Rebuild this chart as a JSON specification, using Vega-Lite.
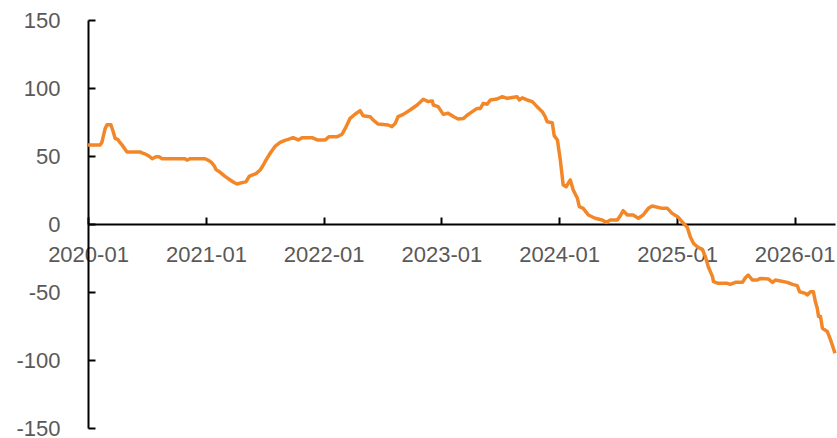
{
  "$schema": "https://vega.github.io/schema/vega-lite/v6.json",
  "width": 747,
  "height": 408,
  "autosize": {"type": "none"},
  "padding": {"left": 88, "top": 20, "right": 2, "bottom": 10},
  "background": "white",
  "config": {"view": {"stroke": null}},
  "data": {"values": [
    {"d": "2020-01-01", "v": 58}, {"d": "2020-02-07", "v": 58}, {"d": "2020-02-13", "v": 60}, {"d": "2020-02-23", "v": 70},
    {"d": "2020-02-29", "v": 73}, {"d": "2020-03-12", "v": 73}, {"d": "2020-03-19", "v": 68}, {"d": "2020-03-25", "v": 63},
    {"d": "2020-04-03", "v": 62}, {"d": "2020-04-09", "v": 60}, {"d": "2020-04-16", "v": 58}, {"d": "2020-04-25", "v": 55},
    {"d": "2020-05-01", "v": 53}, {"d": "2020-06-10", "v": 53}, {"d": "2020-06-20", "v": 52}, {"d": "2020-06-26", "v": 51.5},
    {"d": "2020-07-08", "v": 50}, {"d": "2020-07-18", "v": 48}, {"d": "2020-07-30", "v": 49.5}, {"d": "2020-08-08", "v": 49.5},
    {"d": "2020-08-18", "v": 48}, {"d": "2020-10-28", "v": 48}, {"d": "2020-11-03", "v": 47}, {"d": "2020-11-13", "v": 48},
    {"d": "2020-12-29", "v": 48}, {"d": "2021-01-07", "v": 47}, {"d": "2021-01-17", "v": 45.5}, {"d": "2021-01-26", "v": 43},
    {"d": "2021-02-01", "v": 40}, {"d": "2021-02-14", "v": 38}, {"d": "2021-03-01", "v": 35}, {"d": "2021-03-17", "v": 32.4},
    {"d": "2021-03-29", "v": 30.5}, {"d": "2021-04-07", "v": 29.4}, {"d": "2021-04-23", "v": 30.4}, {"d": "2021-05-05", "v": 31},
    {"d": "2021-05-15", "v": 35}, {"d": "2021-05-24", "v": 36}, {"d": "2021-06-05", "v": 37}, {"d": "2021-06-18", "v": 39.7},
    {"d": "2021-06-27", "v": 43}, {"d": "2021-07-06", "v": 47}, {"d": "2021-07-19", "v": 52}, {"d": "2021-08-03", "v": 57},
    {"d": "2021-08-19", "v": 60}, {"d": "2021-09-03", "v": 61.5}, {"d": "2021-09-13", "v": 62.2}, {"d": "2021-09-28", "v": 63.5},
    {"d": "2021-10-14", "v": 61.8}, {"d": "2021-10-26", "v": 63.5}, {"d": "2021-11-26", "v": 63.5}, {"d": "2021-12-12", "v": 61.8},
    {"d": "2022-01-06", "v": 61.8}, {"d": "2022-01-18", "v": 64.2}, {"d": "2022-02-12", "v": 64.2}, {"d": "2022-02-27", "v": 66},
    {"d": "2022-03-09", "v": 70.3}, {"d": "2022-03-24", "v": 77.7}, {"d": "2022-04-09", "v": 80.9}, {"d": "2022-04-24", "v": 83.3},
    {"d": "2022-05-03", "v": 79.6}, {"d": "2022-05-25", "v": 78.9}, {"d": "2022-06-03", "v": 76.5}, {"d": "2022-06-19", "v": 73.5},
    {"d": "2022-07-20", "v": 72.8}, {"d": "2022-08-01", "v": 71.6}, {"d": "2022-08-11", "v": 74}, {"d": "2022-08-20", "v": 79},
    {"d": "2022-09-05", "v": 80.6}, {"d": "2022-09-26", "v": 83.8}, {"d": "2022-10-18", "v": 87.5}, {"d": "2022-11-06", "v": 91.7},
    {"d": "2022-11-21", "v": 90}, {"d": "2022-12-04", "v": 90.5}, {"d": "2022-12-07", "v": 87.5}, {"d": "2022-12-22", "v": 86.3},
    {"d": "2023-01-07", "v": 80.6}, {"d": "2023-01-22", "v": 81.4}, {"d": "2023-02-07", "v": 79}, {"d": "2023-02-22", "v": 77.2},
    {"d": "2023-03-10", "v": 77.5}, {"d": "2023-03-22", "v": 80}, {"d": "2023-04-07", "v": 82.6}, {"d": "2023-04-22", "v": 85},
    {"d": "2023-05-02", "v": 85}, {"d": "2023-05-11", "v": 88.7}, {"d": "2023-05-23", "v": 88}, {"d": "2023-06-02", "v": 91.2},
    {"d": "2023-06-23", "v": 91.9}, {"d": "2023-07-09", "v": 93.6}, {"d": "2023-07-24", "v": 92.4}, {"d": "2023-08-09", "v": 93},
    {"d": "2023-08-24", "v": 93.6}, {"d": "2023-08-31", "v": 91.2}, {"d": "2023-09-09", "v": 92.8}, {"d": "2023-09-24", "v": 91.2},
    {"d": "2023-10-10", "v": 90}, {"d": "2023-10-25", "v": 86.3}, {"d": "2023-11-10", "v": 82.6}, {"d": "2023-11-19", "v": 79},
    {"d": "2023-11-25", "v": 75.2}, {"d": "2023-12-11", "v": 74.5}, {"d": "2023-12-17", "v": 65}, {"d": "2023-12-27", "v": 61.8},
    {"d": "2024-01-05", "v": 47}, {"d": "2024-01-14", "v": 28.7}, {"d": "2024-01-23", "v": 27.4}, {"d": "2024-02-05", "v": 32.4},
    {"d": "2024-02-14", "v": 25}, {"d": "2024-02-27", "v": 18.9}, {"d": "2024-03-04", "v": 12.7}, {"d": "2024-03-16", "v": 11.5},
    {"d": "2024-04-01", "v": 6.6}, {"d": "2024-04-22", "v": 4.2}, {"d": "2024-05-14", "v": 2.9}, {"d": "2024-05-27", "v": 1.2},
    {"d": "2024-06-08", "v": 2.9}, {"d": "2024-06-30", "v": 2.9}, {"d": "2024-07-09", "v": 6}, {"d": "2024-07-18", "v": 9.8},
    {"d": "2024-07-31", "v": 6.6}, {"d": "2024-08-18", "v": 6.6}, {"d": "2024-09-03", "v": 4.2}, {"d": "2024-09-18", "v": 6.6},
    {"d": "2024-10-04", "v": 11.5}, {"d": "2024-10-16", "v": 13.2}, {"d": "2024-11-16", "v": 11.5}, {"d": "2024-12-02", "v": 11.5},
    {"d": "2024-12-17", "v": 7.8}, {"d": "2025-01-05", "v": 4.9}, {"d": "2025-01-21", "v": 0.5}, {"d": "2025-02-02", "v": -2.5},
    {"d": "2025-02-11", "v": -9.3}, {"d": "2025-02-21", "v": -14.2}, {"d": "2025-03-05", "v": -16.7}, {"d": "2025-03-21", "v": -19},
    {"d": "2025-03-30", "v": -24}, {"d": "2025-04-08", "v": -31.4}, {"d": "2025-04-21", "v": -38.7}, {"d": "2025-04-24", "v": -42.4},
    {"d": "2025-05-09", "v": -43.6}, {"d": "2025-06-06", "v": -43.6}, {"d": "2025-06-15", "v": -44.4}, {"d": "2025-07-01", "v": -42.9},
    {"d": "2025-07-23", "v": -42.9}, {"d": "2025-08-01", "v": -39.5}, {"d": "2025-08-10", "v": -37.5}, {"d": "2025-08-23", "v": -41.2},
    {"d": "2025-09-07", "v": -41.2}, {"d": "2025-09-17", "v": -40}, {"d": "2025-10-11", "v": -40.4}, {"d": "2025-10-24", "v": -42.9},
    {"d": "2025-11-02", "v": -41.2}, {"d": "2025-11-18", "v": -41.9}, {"d": "2025-12-09", "v": -42.9}, {"d": "2025-12-25", "v": -44.4},
    {"d": "2026-01-09", "v": -45.3}, {"d": "2026-01-16", "v": -49.8}, {"d": "2026-02-03", "v": -51}, {"d": "2026-02-09", "v": -52.2},
    {"d": "2026-02-19", "v": -49.8}, {"d": "2026-02-28", "v": -49.8}, {"d": "2026-03-06", "v": -57}, {"d": "2026-03-12", "v": -62},
    {"d": "2026-03-16", "v": -68}, {"d": "2026-03-22", "v": -68}, {"d": "2026-03-28", "v": -76.7}, {"d": "2026-04-12", "v": -79},
    {"d": "2026-04-22", "v": -85}, {"d": "2026-05-06", "v": -95}
  ]},
  "mark": {"type": "line", "color": "#F38728", "strokeWidth": 3.5, "strokeJoin": "round"},
  "encoding": {
    "x": {
      "field": "d", "type": "temporal", "title": null,
      "scale": {"type": "utc", "nice": false},
      "axis": {
        "orient": "bottom", "offset": -204,
        "labelExpr": "utcFormat(datum.value, '%Y-%m')",
        "tickCount": {"interval": "year", "step": 1},
        "grid": false, "domainColor": "#000000", "domainWidth": 2,
        "tickColor": "#000000", "tickWidth": 2, "tickSize": -7,
        "labelPadding": 27, "labelFlush": false, "labelOverlap": false, "labelBound": false,
        "labelFont": "Liberation Sans", "labelFontSize": 22, "labelColor": "#595959"
      }
    },
    "y": {
      "field": "v", "type": "quantitative", "title": null,
      "scale": {"domain": [-150, 150], "nice": false, "zero": false},
      "axis": {
        "values": [-150, -100, -50, 0, 50, 100, 150],
        "labelExpr": "'' + datum.value",
        "grid": false, "domainColor": "#000000", "domainWidth": 2,
        "tickColor": "#000000", "tickWidth": 2, "tickSize": -7,
        "labelPadding": 35, "labelFlush": false, "labelOverlap": false, "labelBound": false,
        "labelFont": "Liberation Sans", "labelFontSize": 22, "labelColor": "#595959"
      }
    }
  }
}
